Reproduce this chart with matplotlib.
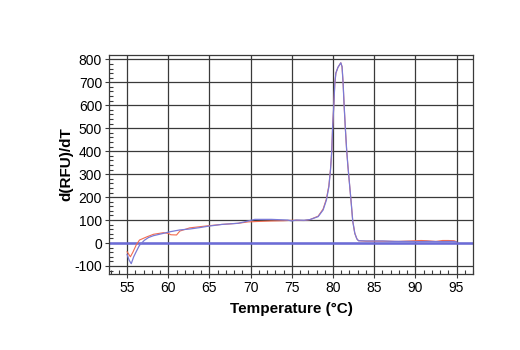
import matplotlib
matplotlib.use("Agg")
import matplotlib.pyplot as plt
from matplotlib.ticker import MultipleLocator

plt.rcParams['font.family'] = ['Liberation Sans Narrow', 'Liberation Sans', 'DejaVu Sans']
plt.rcParams['axes.unicode_minus'] = False

# Melt curve derivative, two replicates
temp_a = [55.0, 55.25, 55.5, 55.8, 56.1, 56.5, 57.1, 57.6, 58.2, 59.4, 60.2, 61.4,
          62.6, 63.8, 64.8, 66.5, 68.5, 69.7, 70.5, 71.7, 72.5, 74.5, 75.0, 75.5,
          76.5, 77.2, 78.2, 78.8, 79.2, 79.5, 79.7, 79.85, 79.95, 80.1, 80.22,
          80.35, 80.6, 80.95, 81.1, 81.23, 81.35, 81.5, 81.65, 81.8, 82.0, 82.2,
          82.4, 82.65, 82.9, 83.1, 84.0, 86.0, 87.5, 89.0, 90.5, 91.5, 93.0,
          94.5, 95.0]
drfu_a = [-50, -75, -90, -60, -38, -10, 12, 24, 32, 42, 49, 57,
          61, 67, 73, 81, 86, 96, 103, 103, 103, 100, 96, 100,
          99, 102, 115, 144, 187, 245, 320, 400, 500, 600, 695,
          740, 765, 785, 768, 695, 601, 500, 410, 340, 260, 180,
          95, 42, 18, 10, 9, 9, 7, 7, 6, 7, 6,
          7, 5]

temp_b = [55.0, 55.4, 55.7, 56.1, 56.5, 57.4, 58.2, 59.4, 60.0, 60.3, 61.0, 61.4,
          62.6, 63.8, 64.8, 66.5, 68.5, 69.7, 71.0, 72.5, 74.0, 75.0, 76.5, 77.2,
          78.2, 78.8, 79.2, 79.5, 79.7, 79.85, 79.95, 80.1, 80.22, 80.35, 80.6,
          80.95, 81.1, 81.23, 81.35, 81.5, 81.65, 81.8, 82.0, 82.2, 82.4, 82.65,
          82.9, 83.1, 84.0, 86.0, 88.0, 90.0, 90.7, 91.4, 92.5, 93.3, 94.0,
          94.7, 95.0]
drfu_b = [-38, -60, -40, -9, 13, 27, 38, 45, 42, 36, 35, 52,
          66, 71, 75, 81, 86, 92, 94, 96, 97, 99, 98, 102,
          117, 148, 192, 250, 322, 400, 500, 600, 695, 740, 765,
          785, 768, 695, 601, 500, 410, 340, 260, 180, 95, 42,
          18, 10, 8, 8, 7, 10, 11, 10, 7, 11, 11,
          10, 6]

x_ticks = [55, 60, 65, 70, 75, 80, 85, 90, 95]
y_ticks = [-100, 0, 100, 200, 300, 400, 500, 600, 700, 800]

fig = plt.figure(figsize=(5.2, 3.5), dpi=100)
ax = fig.add_axes([0.2096, 0.2171, 0.7, 0.6258])

ax.set_xlim(52.8, 97.0)
ax.set_ylim(-135, 819)

ax.set_xticks(x_ticks)
ax.set_yticks(y_ticks)
ax.xaxis.set_minor_locator(MultipleLocator(1))
ax.yaxis.set_minor_locator(MultipleLocator(20))

grid_col = '#3a3a3a'
ax.grid(True, which='major', color=grid_col, linewidth=0.9)
ax.set_axisbelow(True)
for s in ax.spines.values():
    s.set_color(grid_col)
    s.set_linewidth(0.9)

ax.tick_params(which='major', direction='out', length=3, width=0.8,
               color=grid_col, labelsize=10, pad=2)
ax.tick_params(which='minor', direction='in', length=3, width=0.8,
               color=grid_col)

# zero baseline
ax.axhline(0, color='#6b6bd8', linewidth=1.8, zorder=2)

ax.plot(temp_b, drfu_b, color='#f26b4f', linewidth=0.8, zorder=3)
ax.plot(temp_a, drfu_a, color='#7a7ad6', linewidth=0.9, zorder=4)

ax.set_xlabel('Temperature (°C)', fontsize=11, fontweight='bold')
ax.set_ylabel('d(RFU)/dT', fontsize=11, fontweight='bold')
ax.xaxis.set_label_coords(0.5, -0.126)
ax.yaxis.set_label_coords(-0.099, 0.5)

fig.savefig('out.png', dpi=100)
